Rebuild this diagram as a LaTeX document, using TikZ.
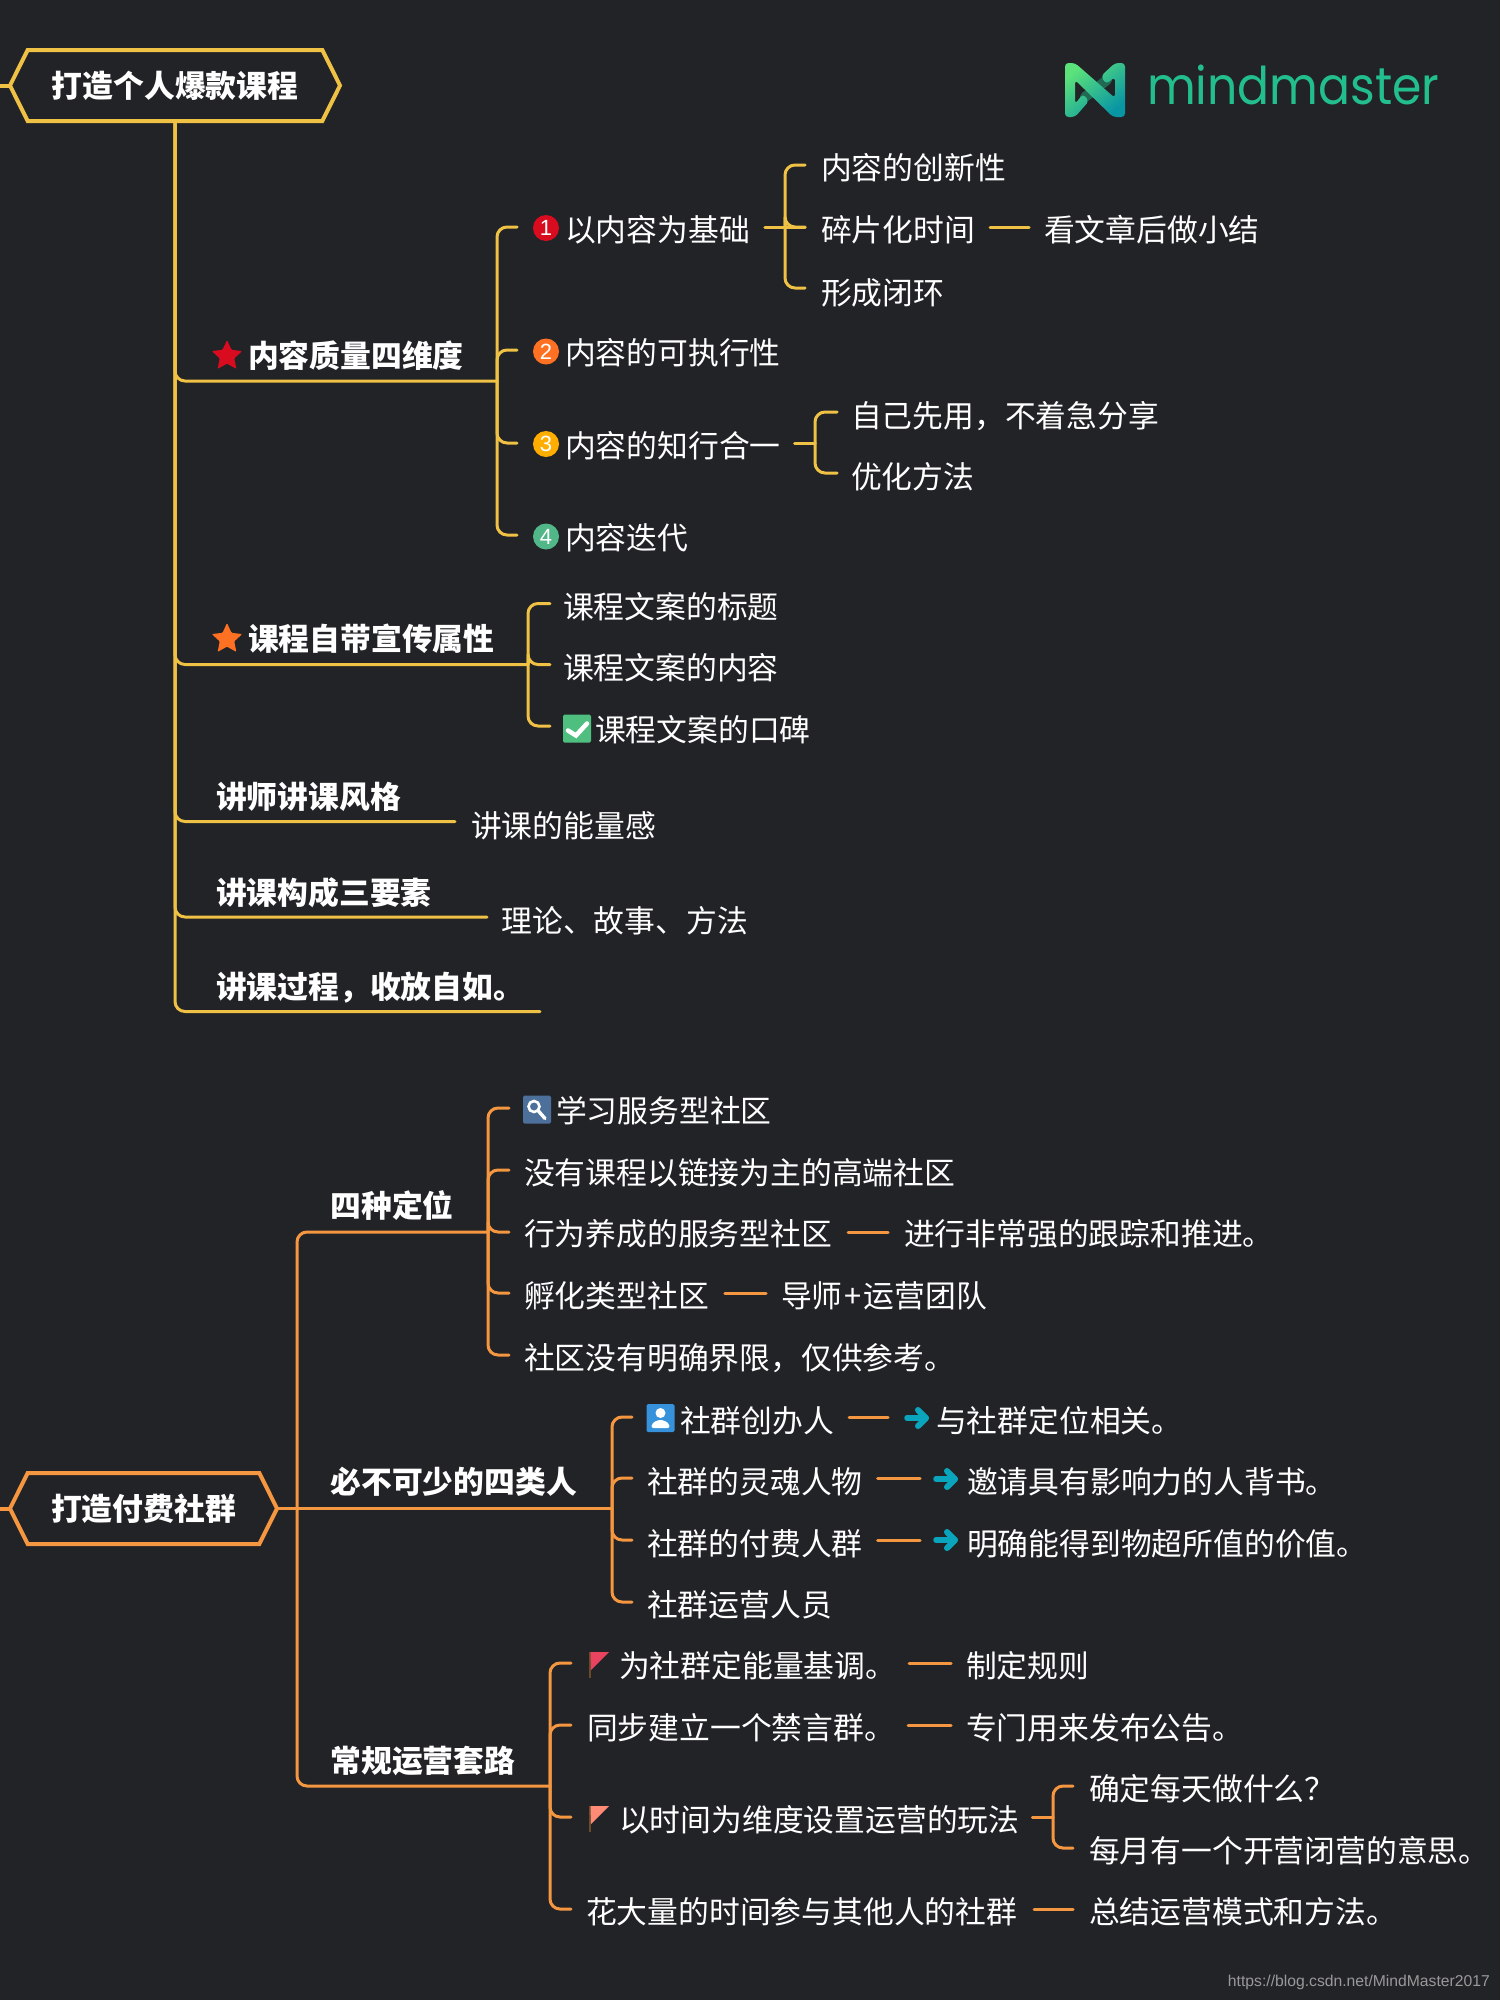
\documentclass[tikz,border=0pt]{standalone}
\usepackage{xcolor}
\usepackage{fontspec}
\setmainfont{Noto Sans CJK SC}
\newfontfamily\logofont[FakeStretch=0.91]{Poppins}
\newfontfamily\urlfont{Liberation Sans}
\usetikzlibrary{positioning,shapes.geometric,shapes.symbols}
\definecolor{bgdark}{HTML}{222327}
\definecolor{goldline}{HTML}{EFC144}
\definecolor{orangeline}{HTML}{F59640}
\definecolor{logogreen}{HTML}{22BE8B}
\definecolor{logolight}{HTML}{5CE27A}
\definecolor{logodeep}{HTML}{0895A4}
\definecolor{arrowteal}{HTML}{0AA5BC}
\definecolor{markred}{HTML}{D90B1E}
\definecolor{markorange}{HTML}{FF7122}
\definecolor{markamber}{HTML}{FFAE00}
\definecolor{markgreen}{HTML}{52B788}
\definecolor{boxgreen}{HTML}{4FBF80}
\definecolor{boxslate}{HTML}{4C7099}
\definecolor{boxblue}{HTML}{3692DA}
\definecolor{flagrose}{HTML}{E8435F}
\definecolor{flagpeach}{HTML}{FF8A75}
\definecolor{flagpole}{HTML}{6B4A2A}
\tikzset{
  txt/.style={anchor=west,inner sep=0pt,outer sep=0pt,text=white,text height=25pt,text depth=0pt,font=\fontsize{30.8}{32}\selectfont},
  head/.style={txt,font=\fontsize{30.8}{32}\selectfont\bfseries},
  rootbox/.style={signal,signal to=west and east,signal pointer angle=127,draw=#1,line width=4pt,fill=bgdark,inner sep=0pt,outer sep=0pt,minimum height=71pt,text=white,font=\fontsize{30.8}{32}\selectfont\bfseries},
  gline/.style={draw=goldline,line width=3pt,line cap=round,rounded corners=10pt},
  oline/.style={draw=orangeline,line width=3pt,line cap=round,rounded corners=10pt},
  numdot/.style={circle,fill=#1,inner sep=0pt,minimum size=26pt,text=white,font=\urlfont\fontsize{22}{22}\selectfont},
  iconbox/.style={rectangle,fill=#1,rounded corners=1.5pt,inner sep=0pt,minimum size=28pt},
  starmark/.style={star,star points=5,star point ratio=2.1,fill=#1,inner sep=0pt,minimum size=32pt,rounded corners=1pt},
  goarrow/.pic={
    \draw[arrowteal,line width=5.5pt,line cap=round] (-10,0) -- (9,0);
    \draw[arrowteal,line width=6pt,line cap=round,line join=round] (1,-8) -- (9,0) -- (1,8);
  },
  flagmark/.pic={
    \draw[flagpole,line width=1.6pt] (0,0) -- (0,26);
    \fill[#1] (0.5,0) -- (19,0) -- (1,18) -- cycle;
  }
}
\begin{document}
\begin{tikzpicture}[x=1pt,y=-1pt]
  \fill[bgdark] (0,0) rectangle (1500,2000);
  \useasboundingbox (0,0) rectangle (1500,2000);

  \draw[line width=10pt,color=logogreen!45!bgdark,line cap=round] (1107,80) -- (1085,97);
  \shade[left color=logolight,right color=logodeep,shading angle=40,rounded corners=3.5pt]
    (1065,63) -- (1075,63) -- (1115,98) -- (1115,77) -- (1106,84) -- (1101,76) -- (1115,63) -- (1125,63)
    -- (1125,117) -- (1113,117) -- (1075,80) -- (1075,104) -- (1083,94) -- (1089,101) -- (1075,117) -- (1065,117) -- cycle;
  \node[anchor=base west,inner sep=0pt,text=logogreen,font=\logofont\fontsize{52}{52}\selectfont] (logotxt) at (1147,104) {mindmaster};

  \node[rootbox=goldline,minimum width=330pt] (root1) at (175,85.5) {打造个人爆款课程};
  \node[rootbox=orangeline,minimum width=267pt] (root2) at (143.5,1508.5) {打造付费社群};

  \foreach \name/\x/\y/\lab in {hqa/248/355/内容质量四维度,hqb/248/638/课程自带宣传属性,hqc/216/796/讲师讲课风格,
      hqd/216/892/讲课构成三要素,hqe/216/986/讲课过程，收放自如。,pqa/330.5/1205/四种定位,pqb/330.5/1481/必不可少的四类人,pqc/330.5/1760/常规运营套路} {
    \node[head] (\name) at (\x,\y) {\lab};
  }

  \foreach \name/\x/\y/\lab in {qa/565/229/以内容为基础,qb/565/352/内容的可执行性,qc/565/445/内容的知行合一,qd/565/537/内容迭代,
      qaa/821/167/内容的创新性,qab/821/229/碎片化时间,qac/821/292/形成闭环,qad/1044/229/看文章后做小结,
      qca/851/415/自己先用，不着急分享,qcb/851/476/优化方法,
      wa/563/606/课程文案的标题,wb/563/667/课程文案的内容,wc/595/729/课程文案的口碑,
      ca/471/825/讲课的能量感,da/501.5/920/理论、故事、方法} {
    \node[txt] (\name) at (\x,\y) {\lab};
  }

  \foreach \name/\x/\y/\lab in {ra/556/1110/学习服务型社区,rb/524/1172/没有课程以链接为主的高端社区,rc/524/1233/行为养成的服务型社区,
      rd/524/1295/孵化类型社区,re/524/1357/社区没有明确界限，仅供参考。,rca/904/1233/进行非常强的跟踪和推进。,rda/781/1295/导师\kern2pt+\kern2pt运营团队,
      sa/680/1420/社群创办人,sb/647/1481/社群的灵魂人物,sc/647/1543/社群的付费人群,sd/647/1604/社群运营人员,
      saa/936/1420/与社群定位相关。,sba/967/1481/邀请具有影响力的人背书。,sca/967/1543/明确能得到物超所值的价值。,
      ta/619/1665/为社群定能量基调。,tb/587/1727/同步建立一个禁言群。,tc/619/1819/以时间为维度设置运营的玩法,td/586/1911/花大量的时间参与其他人的社群,
      taa/966/1665/制定规则,tba/966/1727/专门用来发布公告。,tca/1089/1788/确定每天做什么？,tcb/1089/1850/每月有一个开营闭营的意思。,tda/1089/1911/总结运营模式和方法。} {
    \node[txt] (\name) at (\x,\y) {\lab};
  }

  \node[anchor=base east,inner sep=0pt,text=black!40!white,font=\urlfont\fontsize{15.7}{16}\selectfont] (urlmark) at (1490,1986) {https://blog.csdn.net/MindMaster2017};

  \node[starmark=markred] (stara) at (227,356) {};
  \node[starmark=markorange] (starb) at (227,639) {};
  \node[numdot=markred] (numa) at (546,228) {1};
  \node[numdot=markorange] (numb) at (546,351.5) {2};
  \node[numdot=markamber] (numc) at (546,444) {3};
  \node[numdot=markgreen] (numd) at (546,536.5) {4};

  \node[iconbox=boxgreen] (icocheck) at (577,728.5) {};
  \draw[white,line width=4.5pt,line cap=round] ([shift={(-9,2)}]icocheck.center) -- ([shift={(-1,7)}]icocheck.center) -- ([shift={(10,-5)}]icocheck.center);
  \node[iconbox=boxslate] (icosearch) at (537,1109.5) {};
  \draw[white,line width=2.6pt] ([shift={(-3,-3)}]icosearch.center) circle (5.5);
  \draw[white,line width=3.4pt,line cap=round] ([shift={(1,1)}]icosearch.center) -- ([shift={(8,9)}]icosearch.center);
  \node[iconbox=boxblue] (icouser) at (660.5,1418) {};
  \fill[white] ([shift={(0,-5)}]icouser.center) circle (5);
  \fill[white,rounded corners=2pt] ([shift={(-9,10)}]icouser.center) -- ([shift={(-9,6)}]icouser.center) -- ([shift={(-3,2)}]icouser.center)
    -- ([shift={(3,2)}]icouser.center) -- ([shift={(9,6)}]icouser.center) -- ([shift={(9,10)}]icouser.center) -- cycle;

  \pic at (917,1418) {goarrow};
  \pic at (946,1479) {goarrow};
  \pic at (946,1540) {goarrow};
  \pic at (590,1652) {flagmark={flagrose}};
  \pic at (590,1806) {flagmark={flagpeach}};

  \coordinate (edgea) at (0,85.5);
  \coordinate (edgeb) at (0,1508.5);
  \draw[gline,line width=4pt] (edgea) -- (root1.west);
  \draw[oline,line width=4pt] (edgeb) -- (root2.west);

  \foreach \name/\x/\y in {spa/497/381,spb/528/664.5,endc/455/821.5,endd/487/917,ende/540/1011.5} {
    \coordinate (\name) at (\x,\y);
    \draw[gline] (root1.south) |- (\name);
  }
  \foreach \name/\y in {tipa/227,tipb/350,tipc/443,tipd/535} {
    \coordinate (\name) at (517,\y);
    \draw[gline] (spa) |- (\name);
  }
  \foreach \name/\y in {tipe/603.5,tipf/664.5,tipg/726} {
    \coordinate (\name) at (550,\y);
    \draw[gline] (spb) |- (\name);
  }
  \coordinate (spc) at (785,227);
  \coordinate (spd) at (815,443);
  \foreach \name/\y in {tiph/165,tipj/227,tipk/288} {
    \coordinate (\name) at (805,\y);
    \draw[gline] (spc) |- (\name);
  }
  \foreach \name/\y in {tipm/412,tipn/473} {
    \coordinate (\name) at (837,\y);
    \draw[gline] (spd) |- (\name);
  }
  \draw[gline,shorten <=15pt] (qa.east |- spc) -- (tipj);
  \draw[gline,shorten <=14pt] (qc.east |- spd) -- (spd);
  \draw[gline,shorten <=15pt,shorten >=15pt] (qab.east |- spc) -- (qad.west |- spc);

  \coordinate (trunk) at (297,1508.5);
  \coordinate (spp) at (488,1232);
  \coordinate (spq) at (612,1508.5);
  \coordinate (spr) at (550,1786);
  \draw[oline] (root2.east) -- (spq);
  \draw[oline] (trunk) |- (spp);
  \draw[oline] (trunk) |- (spr);
  \foreach \name/\y in {tipp/1108,tipq/1170,tipr/1232,tips/1293,tipt/1355} {
    \coordinate (\name) at (509,\y);
    \draw[oline] (spp) |- (\name);
  }
  \foreach \name/\y in {tipu/1417,tipv/1478,tipw/1540,tipx/1602} {
    \coordinate (\name) at (632,\y);
    \draw[oline] (spq) |- (\name);
  }
  \foreach \name/\y in {tipy/1663,tipz/1725,tipaa/1817,tipab/1909} {
    \coordinate (\name) at (571,\y);
    \draw[oline] (spr) |- (\name);
  }
  \coordinate (sps) at (1053,1817);
  \foreach \name/\y in {tipac/1786,tipad/1848} {
    \coordinate (\name) at (1073,\y);
    \draw[oline] (sps) |- (\name);
  }
  \draw[oline,shorten <=16pt,shorten >=16pt] (rc.east |- tipr) -- (rca.west |- tipr);
  \draw[oline,shorten <=16pt,shorten >=15pt] (rd.east |- tips) -- (rda.west |- tips);
  \draw[oline,shorten <=15pt,shorten >=48pt] (sa.east |- tipu) -- (saa.west |- tipu);
  \draw[oline,shorten <=15pt,shorten >=47pt] (sb.east |- tipv) -- (sba.west |- tipv);
  \draw[oline,shorten <=15pt,shorten >=47pt] (sc.east |- tipw) -- (sca.west |- tipw);
  \draw[oline,shorten <=13pt,shorten >=15pt] (ta.east |- tipy) -- (taa.west |- tipy);
  \draw[oline,shorten <=13pt,shorten >=15pt] (tb.east |- tipz) -- (tba.west |- tipz);
  \draw[oline,shorten <=13pt] (tc.east |- sps) -- (sps);
  \draw[oline,shorten <=17pt,shorten >=16pt] (td.east |- tipab) -- (tda.west |- tipab);
\end{tikzpicture}
\end{document}
